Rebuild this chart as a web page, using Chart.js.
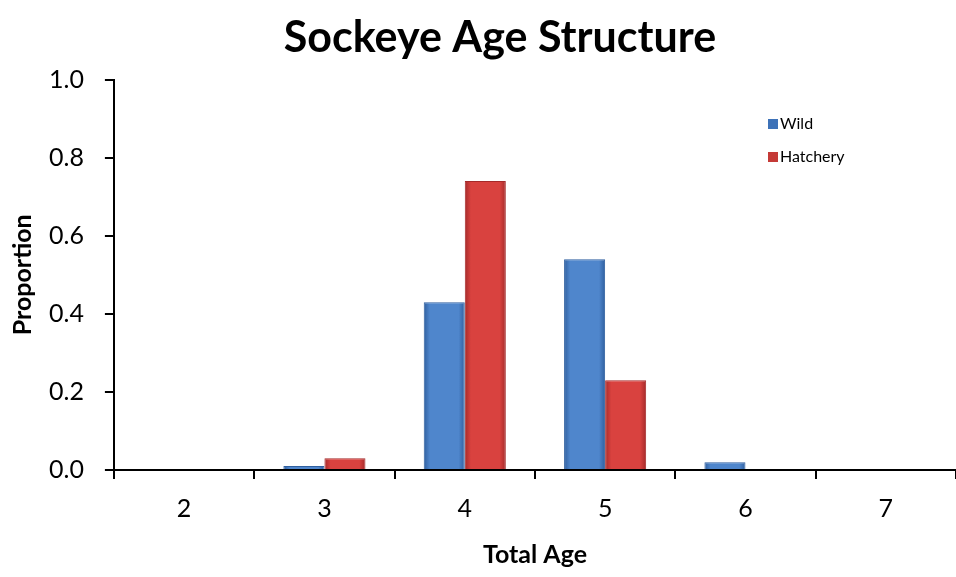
<!DOCTYPE html>
<html>
<head>
<meta charset="utf-8">
<script src="https://cdn.jsdelivr.net/npm/chart.js@4"></script>
<style>
    body { margin: 0; background: #fff; }
    #wrap { position: relative; width: 956px; height: 577px; }
    #legend { position: absolute; left: 768px; top: 113px; font-family: Lato, sans-serif; font-size: 16px; color: #000; }
    #legend div { height: 33px; display: flex; align-items: flex-start; }
    #legend span.box { width: 10px; height: 10px; margin: 6px 2px 0 0; display: inline-block; }
</style>
</head>
<body>
<div id="wrap">
    <canvas id="c" width="956" height="577"></canvas>
    <div id="legend"></div>
</div>
<script>
// data
const ages = ['2', '3', '4', '5', '6', '7'];
const wild = [0, 0.01, 0.43, 0.54, 0.02, 0];
const hatchery = [0, 0.03, 0.74, 0.23, 0, 0];
const yTicks = [0, 0.2, 0.4, 0.6, 0.8, 1.0];

const CAT_PCT = 0.585;
const FONT = 'Lato, sans-serif';

// colours: [edge, middle]
const blue = ['#2f5f9f', '#4f86cc'];
const red = ['#a52a2a', '#d9423f'];

// horizontal bevel-ish gradient for each bar, worked out from the x scale
function barFill(cols, side) {
    return (ctx) => {
        const chart = ctx.chart;
        const xs = chart.scales.x;
        if (!xs || ctx.dataIndex === undefined) return cols[1];
        let catW = xs.width / ages.length;
        let w = catW * CAT_PCT / 2;
        let cx = xs.getPixelForValue(ctx.dataIndex) + side * w / 2;
        if (!isFinite(cx)) return cols[1];
        let g = chart.ctx.createLinearGradient(cx - w / 2, 0, cx + w / 2, 0);
        g.addColorStop(0, cols[0]);
        g.addColorStop(0.15, cols[1]);
        g.addColorStop(0.85, cols[1]);
        g.addColorStop(1, cols[0]);
        return g;
    };
}

// the original title sits a bit right of the canvas centre
const shiftTitle = {
    id: 'shiftTitle',
    beforeDraw(chart) {
        if (chart.titleBlock && !chart.titleBlock._shifted) {
            chart.titleBlock.left += 22;
            chart.titleBlock.right += 22;
            chart.titleBlock._shifted = true;
        }
    }
};

const chart = new Chart(document.getElementById('c'), {
    type: 'bar',
    data: {
        labels: ages,
        datasets: [
            {label: 'Wild', data: wild, backgroundColor: barFill(blue, -1), borderColor: blue[0], borderWidth: 1, legendColor: '#3d72b8'},
            {label: 'Hatchery', data: hatchery, backgroundColor: barFill(red, 1), borderColor: red[0], borderWidth: 1, legendColor: '#c53a37'}
        ]
    },
    plugins: [shiftTitle],
    options: {
        responsive: false,
        animation: false,
        categoryPercentage: CAT_PCT,
        barPercentage: 1,
        layout: {padding: {left: 0, right: 0, top: 6, bottom: 7}},
        plugins: {
            legend: {display: false},
            tooltip: {enabled: false},
            title: {
                display: true,
                text: 'Sockeye Age Structure',
                color: '#000',
                font: {family: FONT, size: 43, weight: 'bold', lineHeight: 1.2},
                padding: {top: 6, bottom: 16}
            }
        },
        scales: {
            x: {
                grid: {display: true, drawOnChartArea: false, offset: true, color: '#000', lineWidth: 2, tickLength: 9},
                border: {color: '#000', width: 2},
                ticks: {color: '#000', font: {family: FONT, size: 25}, padding: 15},
                title: {display: true, text: 'Total Age', color: '#000', font: {family: FONT, size: 25, weight: 'bold'}, padding: {top: 1, bottom: 0}}
            },
            y: {
                min: 0,
                max: 1,
                afterBuildTicks: (axis) => { axis.ticks = yTicks.map(v => ({value: v})); },
                grid: {display: true, drawOnChartArea: false, color: '#000', lineWidth: 2, tickLength: 9},
                border: {color: '#000', width: 2},
                ticks: {color: '#000', font: {family: FONT, size: 25}, padding: 21, callback: v => v.toFixed(1)},
                title: {display: true, text: 'Proportion', color: '#000', font: {family: FONT, size: 25, weight: 'bold'}, padding: {top: 8, bottom: -10}}
            }
        }
    }
});

// legend as plain html, stacked like the original
const leg = document.getElementById('legend');
chart.data.datasets.forEach((ds) => {
    let row = document.createElement('div');
    let box = document.createElement('span');
    box.className = 'box';
    box.style.background = ds.legendColor;
    row.appendChild(box);
    row.appendChild(document.createTextNode(ds.label));
    leg.appendChild(row);
});
</script>
</body>
</html>
